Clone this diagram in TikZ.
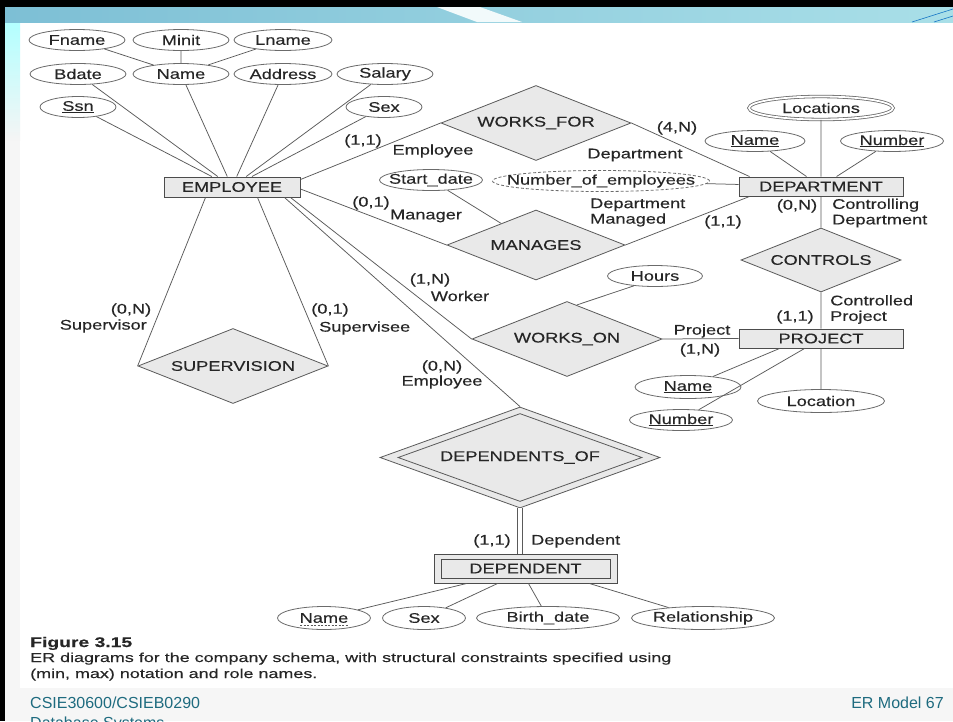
\documentclass[tikz,border=0pt]{standalone}
\usepackage{fontspec}
\setmainfont{Liberation Sans}
\newfontfamily\erfont[FakeStretch=1.3,FakeBold=0.25]{Liberation Sans}
\newfontfamily\capfont[FakeStretch=1.38,FakeBold=0.2]{Liberation Sans}
\usetikzlibrary{shapes.geometric,calc}
\definecolor{ink}{HTML}{262626}
\definecolor{edge}{HTML}{5A5A5A}
\definecolor{shade}{HTML}{E9E9E9}
\definecolor{footteal}{HTML}{1E6B7F}
\definecolor{bandL}{HTML}{7DBFD5}
\definecolor{bandR}{HTML}{A9DFE8}
\begin{document}
\begin{tikzpicture}[x=1pt,y=-1pt,
  every node/.style={font=\erfont\fontsize{14}{15.5}\selectfont, text=ink},
  lbl/.style={inner sep=0pt},
  entity/.style={rectangle, draw=edge!85!black, fill=shade, inner sep=0pt, line width=1pt},
  rel/.style n args={3}{diamond, draw=edge, fill=shade, minimum width=#1pt,
    minimum height=#2pt, inner sep=0pt, line width=0.8pt, label={[lbl]center:#3}},
  attr/.style 2 args={ellipse, draw=edge!90, minimum width=#1pt, minimum height=21pt,
    inner sep=0pt, line width=0.8pt, label={[lbl]center:#2}},
  link/.style={draw=edge, line width=0.75pt},
]
\useasboundingbox (0,0) rectangle (953,721);

% slide frame
\fill[gray!7] (0,0) rectangle (953,721);
\fill[white] (20,22) rectangle (953,688);
\shade[top color=cyan!30!white, bottom color=gray!8] (5,22) rectangle (20,140);
\shade[left color=bandL, right color=bandR] (5,7) rectangle (953,22);
\fill[white!85!bandR] (437,7) -- (480,7) -- (522,22) -- (477,22) -- cycle;
\draw[cyan!55!blue, line width=0.6pt] (912,22) -- (953,9);
\draw[cyan!55!blue, line width=0.6pt] (934,22) -- (953,16);
\fill[black] (0,0) rectangle (953,7);
\fill[black] (0,0) rectangle (5,721);

% entities
\node[entity, minimum width=136pt, minimum height=20pt] (emp) at (232,187) {EMPLOYEE};
\node[entity, minimum width=164pt, minimum height=19pt] (dept) at (821,186.5) {DEPARTMENT};
\node[entity, minimum width=164pt, minimum height=19pt] (proj) at (821,338.5) {PROJECT};
\node[entity, minimum width=183pt, minimum height=29pt] (depout) at (525.5,568.5) {};
\node[entity, minimum width=169pt, minimum height=19pt] (dep) at (525.5,568.5) {DEPENDENT};

% relationships
\node[rel={190}{75}{WORKS\_FOR}] (wf) at (536,123) {};
\node[rel={178}{70}{MANAGES}] (mg) at (536,245) {};
\node[rel={190}{75}{WORKS\_ON}] (wo) at (567,339) {};
\node[rel={160}{64}{CONTROLS}] (ctl) at (821,260) {};
\node[rel={190}{75}{SUPERVISION}] (sup) at (233,366) {};
\node[rel={280}{101}{}] (depof) at (520,457.5) {};
\node[rel={244}{88}{DEPENDENTS\_OF}] (depofin) at (520,457.5) {};

% attributes of EMPLOYEE
\node[attr={96}{Fname}] (fname) at (77,40) {};
\node[attr={96}{Minit}] (minit) at (181,40) {};
\node[attr={98}{Lname}] (lname) at (283,40) {};
\node[attr={96}{Bdate}] (bdate) at (78,74) {};
\node[attr={96}{Name}] (ename) at (181,74) {};
\node[attr={98}{Address}] (addr) at (283,74) {};
\node[attr={96}{Salary}] (salary) at (385,74) {};
\node[attr={76}{\underline{Ssn}}] (ssn) at (78,107) {};
\node[attr={76}{Sex}] (esex) at (384,107) {};

% attributes of DEPARTMENT and MANAGES
\node[attr={144}{Locations}, minimum height=23pt, double, double distance=1.8pt] (loc) at (821,108) {};
\node[attr={100}{\underline{Name}}] (dname) at (755,141) {};
\node[attr={103}{\underline{Number}}] (dnum) at (892,141) {};
\node[attr={217}{Number\_of\_employees}, dash pattern=on 3pt off 2pt] (noe) at (601,181) {};
\node[attr={103}{Start\_date}] (sdate) at (431,180) {};

% attributes of WORKS_ON and PROJECT
\node[attr={95}{Hours}] (hours) at (655,276) {};
\node[attr={106}{\underline{Name}}, minimum height=23pt] (pname) at (688,387) {};
\node[attr={103}{\underline{Number}}] (pnum) at (681,420) {};
\node[attr={127}{Location}, minimum height=23pt] (ploc) at (821,401) {};

% attributes of DEPENDENT
\node[attr={93}{Name}, minimum height=23pt] (dpname) at (324,618) {};
\node[attr={83}{Sex}, minimum height=23pt] (dpsex) at (424,618) {};
\node[attr={143}{Birth\_date}, minimum height=23pt] (dpbirth) at (548,618) {};
\node[attr={143}{Relationship}, minimum height=23pt] (dprel) at (703,618) {};
\draw[edge, line width=0.7pt, dash pattern=on 2pt off 1.5pt]
  ($(dpname.center)+(-24,7)$) -- ($(dpname.center)+(24,7)$);

% attachment points on the entity boxes
\coordinate (empWF) at ($(emp.north east)+(0,3)$);
\coordinate (empMG) at ($(emp.east)+(0,2)$);
\coordinate (empSv) at ($(emp.south west)+(42,0)$);
\coordinate (empSe) at ($(emp.south west)+(94,0)$);
\coordinate (empDp) at ($(emp.south west)+(121,0)$);
\coordinate (empWo) at ($(emp.south west)+(127,0)$);
\coordinate (deptWF) at ($(dept.north west)+(11,0)$);
\coordinate (deptMG) at ($(dept.south west)+(11,0)$);
\coordinate (projNm) at ($(proj.south west)+(41,0)$);
\coordinate (projNo) at ($(proj.south west)+(66,0)$);
\coordinate (depA) at ($(depout.south west)+(33,0)$);
\coordinate (depB) at ($(depout.south west)+(64,0)$);
\coordinate (depC) at ($(depout.south west)+(95,0)$);
\coordinate (depD) at ($(depout.south west)+(156,0)$);

% connectors
\path[link] (fname) -- (ename)  (minit) -- (ename)  (lname) -- (ename)
  (bdate) -- (emp)  (ename) -- (emp)  (addr) -- (emp)  (salary) -- (emp)
  (ssn) -- (emp)  (esex) -- (emp);
\path[link] (empWF) -- (wf.west)  (wf.east) -- (deptWF)
  (empMG) -- (mg.west)  (mg.east) -- (deptMG)  (sdate) -- (mg)
  (noe) -- (dept)  (loc) -- (dept)  (dname) -- (dept)  (dnum) -- (dept)
  (dept) -- (ctl)  (ctl) -- (proj)
  (empWo) -- (wo.west)  (wo.east) -- (proj.west)  (hours.205) -- (wo.74)
  (pname) -- (projNm)  (pnum) -- (projNo)  (ploc) -- (proj)
  (empSv) -- (sup.west)  (empSe) -- (sup.east)
  (empDp) -- (depof.north)
  (dpname) -- (depA)  (dpsex) -- (depB)  (dpbirth) -- (depC)  (dprel) -- (depD);
\draw[link, line width=0.9pt, double=white, double distance=3.5pt]
  (depof.south) -- (depof.south |- depout.north);

% constraints and role names
\node[lbl] (l1) at (363,141) {(1,1)};
\node[lbl] (l2) at (433,151) {Employee};
\node[lbl] (l3) at (677,128) {(4,N)};
\node[lbl] (l4) at (635,155) {Department};
\node[lbl] (l5) at (371,203) {(0,1)};
\node[lbl] (l6) at (426,216) {Manager};
\node[lbl, anchor=west, align=left] (l7) at (590,212.5) {Department\\Managed};
\node[lbl] (l8) at (723,222) {(1,1)};
\node[lbl] (l9) at (797,206) {(0,N)};
\node[lbl, anchor=west, align=left] (l10) at (832,213) {Controlling\\Department};
\node[lbl, anchor=west, align=left] (l11) at (830,309.5) {Controlled\\Project};
\node[lbl] (l12) at (795,317) {(1,1)};
\node[lbl] (l13) at (702,331) {Project};
\node[lbl] (l14) at (700,350) {(1,N)};
\node[lbl] (l15) at (430,280) {(1,N)};
\node[lbl] (l16) at (460,296) {Worker};
\node[lbl] (l17) at (131,310) {(0,N)};
\node[lbl, anchor=east] (l18) at (147,326) {Supervisor};
\node[lbl] (l19) at (330,310) {(0,1)};
\node[lbl, anchor=west] (l20) at (319,328) {Supervisee};
\node[lbl] (l21) at (442,367) {(0,N)};
\node[lbl] (l22) at (442,382) {Employee};
\node[lbl] (l23) at (492,541) {(1,1)};
\node[lbl, anchor=west] (l24) at (531,541) {Dependent};

% caption
\node[lbl, anchor=base west, font=\capfont\bfseries\fontsize{14}{16}\selectfont] (cap0) at (30,647) {Figure 3.15};
\node[lbl, anchor=base west, font=\capfont\fontsize{13}{15}\selectfont] (cap1) at (30,662)
  {ER diagrams for the company schema, with structural constraints specified using};
\node[lbl, anchor=base west, font=\capfont\fontsize{13}{15}\selectfont] (cap2) at (30,678)
  {(min, max) notation and role names.};

% slide footer
\node[lbl, anchor=base west, font=\fontsize{16}{18}\selectfont, text=footteal] (foot1) at (30,708) {CSIE30600/CSIEB0290};
\node[lbl, anchor=base west, font=\fontsize{16}{18}\selectfont, text=footteal] (foot2) at (30,728.5) {Database Systems};
\node[lbl, anchor=base east, font=\fontsize{16}{18}\selectfont, text=footteal] (foot3) at (944,708) {ER Model 67};
\end{tikzpicture}
\end{document}
